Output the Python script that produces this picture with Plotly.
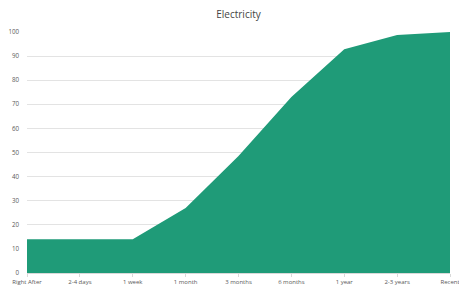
import plotly.graph_objects as go

categories = ["Right After", "2-4 days", "1 week", "1 month", "3 months",
              "6 months", "1 year", "2-3 years", "Recent"]
values = [14, 14, 14, 27, 48.5, 73, 92.8, 98.8, 100]
y_ticks = [0, 10, 20, 30, 40, 50, 60, 70, 80, 90, 100]

fig = go.Figure()
fig.add_trace(go.Scatter(
    x=categories, y=values, mode="lines", fill="tozeroy",
    line=dict(width=0, color="#1f9b78"), fillcolor="#1f9b78",
    hoverinfo="x+y"))

fig.update_layout(
    width=459, height=288,
    margin=dict(l=27, r=9, t=32, b=15),
    paper_bgcolor="white", plot_bgcolor="white",
    showlegend=False,
    title=dict(text="Electricity", x=0.5, xref="paper", xanchor="center", y=0.948, yanchor="middle",
               font=dict(family="Open Sans, Liberation Sans, sans-serif", size=10, color="#444444")),
    font=dict(family="Open Sans, Liberation Sans, sans-serif", size=6, color="#595959"),
)
fig.update_xaxes(
    type="category", range=[0, len(categories) - 1],
    showgrid=False, showline=True, linecolor="#d9d9d9", linewidth=1,
    ticks="outside", ticklen=3, tickcolor="#d9d9d9",
    tickfont=dict(size=6, color="#595959"), fixedrange=True, automargin=False,
)
fig.update_yaxes(
    range=[0, 100], tickvals=y_ticks, showgrid=True, gridcolor="#e3e3e3", gridwidth=1,
    zeroline=False, showline=False, ticks="", ticklabelstandoff=7,
    tickfont=dict(size=6.2, color="#595959"), fixedrange=True, automargin=False,
)

fig.write_html("out.html", config={"displayModeBar": False},
               post_script="document.body.style.margin='0';")
